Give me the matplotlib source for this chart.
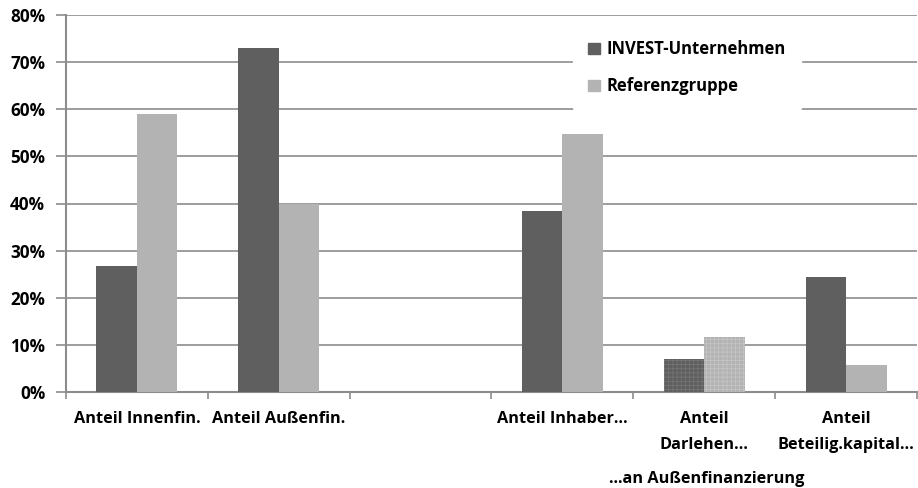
import matplotlib
matplotlib.use("Agg")
import matplotlib.pyplot as plt
import numpy as np
from matplotlib.patches import Patch

categories = ["Anteil Innenfin.", "Anteil Außenfin.", "", "Anteil Inhaber…",
              "Anteil\nDarlehen…", "Anteil\nBeteilig.kapital…"]
invest = [26.8, 73.0, np.nan, 38.4, 7.0, 24.4]
referenz = [59.0, 40.0, np.nan, 54.8, 11.7, 5.7]
series_names = ["INVEST-Unternehmen", "Referenzgruppe"]
yticks = [0, 10, 20, 30, 40, 50, 60, 70, 80]
subtitle = "...an Außenfinanzierung"

plt.rcParams['font.family'] = ['Open Sans', 'DejaVu Sans']
plt.rcParams['font.weight'] = 'bold'
plt.rcParams['hatch.linewidth'] = 0.5

fig = plt.figure(figsize=(9.18, 4.88), dpi=100)
ax = fig.add_axes([66/918, 1-392/488, (917-66)/918, (392-15)/488])

dark = "#5f5f5f"
light = "#b3b3b3"
grid_c = "#8c8c8c"
x = np.arange(len(categories))
w = 0.285
hatch_idx = 4
for i in range(len(categories)):
    if np.isnan(invest[i]):
        continue
    h1 = dict(hatch='++++', edgecolor='#777777', linewidth=0) if i == hatch_idx else {}
    h2 = dict(hatch='++++', edgecolor='#c6c6c6', linewidth=0) if i == hatch_idx else {}
    ax.bar(x[i] - w/2, invest[i], width=w, color=dark, zorder=3, **h1)
    ax.bar(x[i] + w/2, referenz[i], width=w, color=light, zorder=3, **h2)

ax.set_xlim(-0.5, len(categories) - 0.5)
ax.set_ylim(0, 80)
ax.set_yticks(yticks)
ax.set_yticklabels([f"{v}%" for v in yticks], fontsize=12.3, fontweight='bold')
ax.yaxis.grid(True, color=grid_c, linewidth=1.2, zorder=0)
ax.set_xticks(np.arange(-0.5, len(categories) + 0.5, 1.0))
ax.set_xticklabels([])
ax.set_xticks(x, minor=True)
ax.set_xticklabels(categories, minor=True, fontsize=11.7, fontweight='bold', va='top',
                   linespacing=1.8)
ax.tick_params(axis='x', which='minor', length=0, pad=14)
ax.tick_params(axis='x', which='major', length=5, color=grid_c, width=1.2)
ax.tick_params(axis='y', length=7, color=grid_c, width=1.2, pad=8)
for s in ['top', 'right']:
    ax.spines[s].set_visible(False)
for s in ['left', 'bottom']:
    ax.spines[s].set_color(grid_c)
    ax.spines[s].set_linewidth(1.5)

handles = [Patch(color=dark), Patch(color=light)]
leg = ax.legend(handles, series_names, loc='upper left', bbox_to_anchor=(0.586, 0.995),
                frameon=True, handlelength=0.7, handleheight=0.7,
                labelspacing=1.15, borderpad=0.9, handletextpad=0.4,
                prop={'weight': 'bold', 'size': 12})
leg.get_frame().set_edgecolor('white')
leg.get_frame().set_facecolor('white')
leg.get_frame().set_alpha(1)
leg.set_zorder(5)

fig.text(707/918, 1-479/488, subtitle, ha='center', va='center', fontsize=11.7, fontweight='bold')

fig.savefig("out.png", dpi=100)
